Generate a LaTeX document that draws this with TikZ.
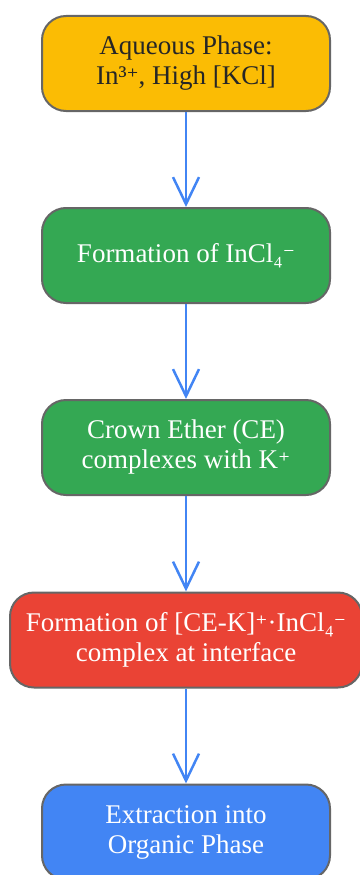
\documentclass[tikz,border=0pt]{standalone}
\usepackage{fontspec}
\setmainfont{Liberation Serif}
\newfontfamily\ionfont[Scale=0.85]{DejaVu Serif}
\newcommand{\ionplus}{{\ionfont ⁺}}
\newcommand{\ionminus}{{\ionfont ⁻}}
\usetikzlibrary{arrows.meta}
\definecolor{stepyellow}{HTML}{FBBC04}
\definecolor{stepgreen}{HTML}{34A853}
\definecolor{stepred}{HTML}{EA4335}
\definecolor{stepblue}{HTML}{4285F4}
\definecolor{edgegray}{HTML}{666666}
\begin{document}
\begin{tikzpicture}[x=1pt,y=-1pt,
    stepbox/.style={draw=edgegray,line width=2pt,rounded corners=24pt,
        minimum width=288pt,minimum height=95pt,align=center,text=white,
        font=\fontsize{27}{30}\selectfont},
    flow/.style={draw=stepblue,line width=2.5pt,
        -{Straight Barb[length=27pt,width=26pt,line width=2.5pt]}}]
    \useasboundingbox (0,0) rectangle (359,875);
    \node[stepbox,fill=stepyellow,text={black!85}] (aq) at (186,63.5) {Aqueous Phase:\\In³\ionplus, High [KCl]};
    \node[stepbox,fill=stepgreen] (incl) at (186,255.5) {Formation of InCl₄\ionminus};
    \node[stepbox,fill=stepgreen] (ce) at (186,447.5) {Crown Ether (CE)\\complexes with K\ionplus};
    \node[stepbox,fill=stepred,minimum width=352pt] (cplx) at (186,640) {Formation of [CE-K]\ionplus·InCl₄\ionminus\\complex at interface};
    \node[stepbox,fill=stepblue] (ext) at (186,832) {Extraction into\\Organic Phase};
    %
    \draw[flow] (aq) -- (incl);
    \draw[flow] (incl) -- (ce);
    \draw[flow] (ce) -- (cplx);
    \draw[flow] (cplx) -- (ext);
\end{tikzpicture}
\end{document}
